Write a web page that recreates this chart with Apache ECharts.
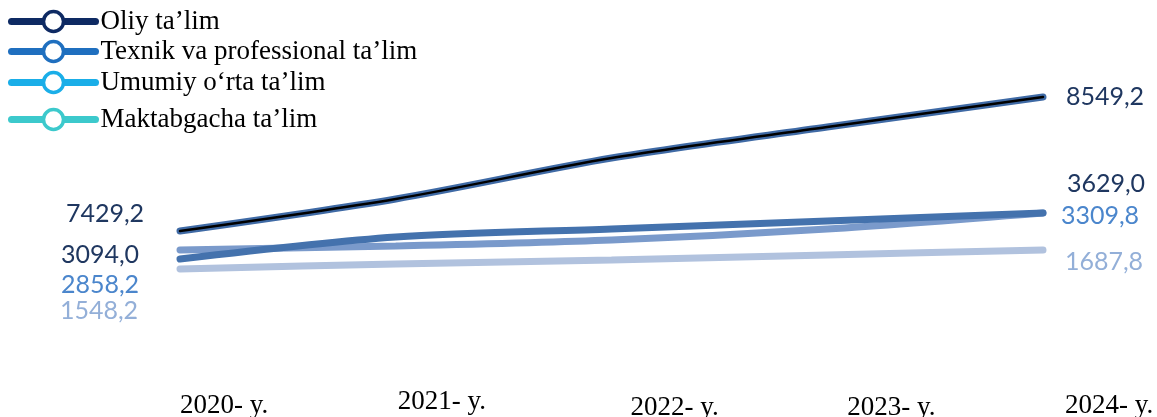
<!DOCTYPE html>
<html>
<head>
<meta charset="utf-8">
<script src="https://cdn.jsdelivr.net/npm/echarts@6/dist/echarts.min.js"></script>
<style>
html,body{margin:0;padding:0;background:#fff;}
#chart{width:1157px;height:417px;}
</style>
</head>
<body>
<div id="chart"></div>
<script>
// ---- data ----
const years = ['2020- y.', '2021- y.', '2022- y.', '2023- y.', '2024- y.'];
const seriesNames = ['Oliy ta\u2019lim', 'Texnik va professional ta\u2019lim', 'Umumiy o\u2018rta ta\u2019lim', 'Maktabgacha ta\u2019lim'];
const oliy = [7429.2, 7697, 8039, 8298, 8549.2];
const texnik = [3094.0, 3350, 3443, 3536, 3629.0];
const umumiy = [2858.2, 2907, 2980, 3114, 3309.8];
const maktabgacha = [1548.2, 1585, 1614, 1651, 1687.8];

// ---- styles ----
const legendColors = ['#0e2a63', '#1f6fbf', '#1aaee8', '#3cc9cc'];
const lineColors = ['#3f6aa5', '#4472ad', '#7a9acb', '#b1c2de'];
const labelColors = ['#1f3760', '#1f3760', '#4b86cc', '#93afd8'];
const startOffsets = [[-75, -17], [-80, -4], [-80, 35], [-81, 42]];
const endOffsets = [[62, 0], [63, -29], [57, 3], [61, 12]];
const axisRanges = [[6852.5, 8858.5], [2617.2, 5408.5], [2247.9, 5177.2], [1320.4, 3083.8]];
const legendTops = [8, 38, 69, 106];
const xPadLeft = [0, 2, 19, 20, 22];
const xPadTop = [4, 0, 6, 6, 4];

const fmt = v => v.toFixed(1).replace('.', ',');

function buildData(vals, idx) {
  const last = vals.length - 1;
  return vals.map((v, i) => ({
    value: v,
    label: {
      show: i === 0 || i === last,
      offset: i === 0 ? startOffsets[idx] : endOffsets[idx]
    }
  }));
}

const allVals = [oliy, texnik, umumiy, maktabgacha];

const series = [];
allVals.forEach((vals, idx) => {
  series.push({
    name: seriesNames[idx],
    type: 'line',
    yAxisIndex: idx,
    smooth: 0.3,
    symbol: 'circle',
    symbolSize: 0.1,
    showSymbol: true,
    z: 10 - idx,
    lineStyle: { color: lineColors[idx], width: 7, cap: 'round' },
    itemStyle: { color: lineColors[idx] },
    label: {
      position: 'inside',
      formatter: p => fmt(p.value),
      fontFamily: 'Lato',
      fontSize: 25,
      color: labelColors[idx]
    },
    emphasis: { disabled: true },
    data: buildData(vals, idx)
  });
});
// thin black line over the first series
series.push({
  name: '_oliy_black',
  type: 'line',
  yAxisIndex: 0,
  smooth: 0.3,
  symbol: 'none',
  z: 20,
  lineStyle: { color: '#000', width: 2.5, cap: 'round' },
  emphasis: { disabled: true },
  data: oliy
});

const legends = seriesNames.map((n, i) => ({
  left: 8,
  top: legendTops[i],
  padding: 0,
  itemWidth: 84,
  itemHeight: 25,
  selectedMode: false,
  textStyle: { fontFamily: 'Liberation Serif', fontSize: 27, color: '#000' },
  data: [{
    name: n,
    itemStyle: { color: '#fff', borderColor: legendColors[i], borderWidth: 3.5 },
    lineStyle: { color: legendColors[i], width: 7, cap: 'round' }
  }]
}));

const rich = {};
years.forEach((y, i) => {
  rich['s' + i] = {
    fontFamily: 'Liberation Serif',
    fontSize: 27,
    color: '#000',
    padding: [xPadTop[i], 0, 0, xPadLeft[i]]
  };
});

const chart = echarts.init(document.getElementById('chart'));
chart.setOption({
  animation: false,
  backgroundColor: '#fff',
  legend: legends,
  grid: { left: 180, right: 114, top: 60, bottom: 117, containLabel: false, outerBoundsMode: 'none' },
  xAxis: {
    type: 'category',
    boundaryGap: false,
    data: years,
    axisLine: { show: false },
    axisTick: { show: false },
    splitLine: { show: false },
    axisLabel: {
      interval: 0,
      margin: 88,
      align: 'left',
      formatter: (v, i) => '{s' + i + '|' + v + '}',
      rich: rich
    }
  },
  yAxis: axisRanges.map(r => ({
    type: 'value',
    show: false,
    min: r[0],
    max: r[1],
    splitLine: { show: false }
  })),
  series: series
});
</script>
</body>
</html>
